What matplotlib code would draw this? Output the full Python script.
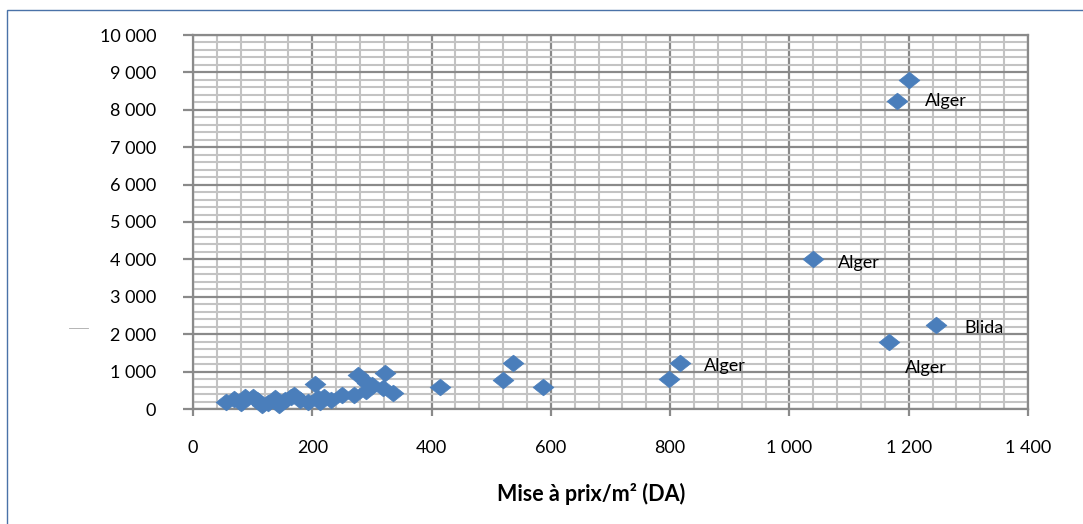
import matplotlib
matplotlib.use("Agg")
import matplotlib.pyplot as plt
from matplotlib.lines import Line2D
from matplotlib.patches import Rectangle
from matplotlib.path import Path
import numpy as np

plt.rcParams['font.family'] = ['Lato', 'DejaVu Sans']

# ---- data ----
mise_a_prix = [55, 68, 80, 88, 100, 108, 115, 125, 138, 145, 155, 165, 170, 180, 192,
               205, 210, 213, 220, 232, 250, 270, 277, 290, 292, 300, 318, 322, 335,
               414, 520, 537, 586, 798, 817, 1040, 1167, 1180, 1200, 1245]
valeur = [190, 280, 170, 320, 330, 250, 100, 150, 300, 120, 240, 330, 380, 230, 200,
          680, 300, 180, 330, 250, 370, 380, 920, 470, 700, 650, 570, 970, 420,
          590, 770, 1240, 590, 790, 1235, 4000, 1790, 8230, 8800, 2250]
label_idx = [37, 35, 39, 36, 34]
label_txt = ["Alger", "Alger", "Blida", "Alger", "Alger"]
label_off = [(28, 0), (25, -4), (29, -3), (16, -26), (24, -3)]

x_ticks = [0, 200, 400, 600, 800, 1000, 1200, 1400]
y_ticks = [0, 1000, 2000, 3000, 4000, 5000, 6000, 7000, 8000, 9000, 10000]
x_label = "Mise à prix/m² (DA)"

def fmt(v):
    return f"{v:,}".replace(",", " ")

W, H = 1083, 524
fig = plt.figure(figsize=(W / 100, H / 100), dpi=100)
ax = fig.add_axes([193 / W, 1 - 409 / H, (1028 - 193) / W, (409 - 35) / H])

ax.set_xlim(0, 1400)
ax.set_ylim(0, 10000)
ax.set_xticks(x_ticks)
ax.set_xticklabels([fmt(v) for v in x_ticks])
ax.set_yticks(y_ticks)
ax.set_yticklabels([fmt(v) for v in y_ticks])
ax.set_xticks(np.arange(0, 1401, 40), minor=True)
ax.set_yticks(np.arange(0, 10001, 200), minor=True)

ax.grid(which='minor', color='#c3c3c3', linewidth=1.5, zorder=0)
ax.grid(which='major', color='#8a8a8a', linewidth=1.6, zorder=0.5)
ax.set_axisbelow(True)

for s in ax.spines.values():
    s.set_color('#8a8a8a')
    s.set_linewidth(1.6)

ax.tick_params(axis='both', which='minor', length=0)
ax.tick_params(axis='y', which='major', length=7.5, width=1.6, color='#8a8a8a',
               pad=19, labelsize=13, labelcolor='black')
ax.tick_params(axis='x', which='major', length=5, width=1.6, color='#8a8a8a',
               pad=17, labelsize=13, labelcolor='black')

diamond = Path([(-1, 0), (0, -0.8), (1, 0), (0, 0.8), (-1, 0)],
               [Path.MOVETO, Path.LINETO, Path.LINETO, Path.LINETO, Path.CLOSEPOLY])
ax.plot(mise_a_prix, valeur, linestyle='none', marker=diamond, markersize=15,
        markerfacecolor='#4a7ebb', markeredgecolor='#4a7ebb', markeredgewidth=0.5,
        zorder=3, clip_on=False)

for i, t, off in zip(label_idx, label_txt, label_off):
    ax.annotate(t, (mise_a_prix[i], valeur[i]), xytext=(off[0] * 0.72, off[1] * 0.72),
                textcoords='offset points', ha='left', va='center', fontsize=13,
                color='black', zorder=4)

fig.text(591 / W, 1 - 494 / H, x_label, ha='center', va='center', fontsize=15.5,
         fontweight='bold', color='black')

# small dash at left (remnant of y-axis title)
fig.add_artist(Line2D([69 / W, 88 / W], [1 - 328 / H, 1 - 328 / H], color='#a8a8a8',
                      linewidth=0.6))

# chart border
fig.add_artist(Rectangle((7 / W, -0.05), 1.1, (H - 10) / H + 0.05, fill=False,
                         edgecolor='#4a72a8', linewidth=1.0, transform=fig.transFigure))

fig.savefig("out.png", dpi=100)
